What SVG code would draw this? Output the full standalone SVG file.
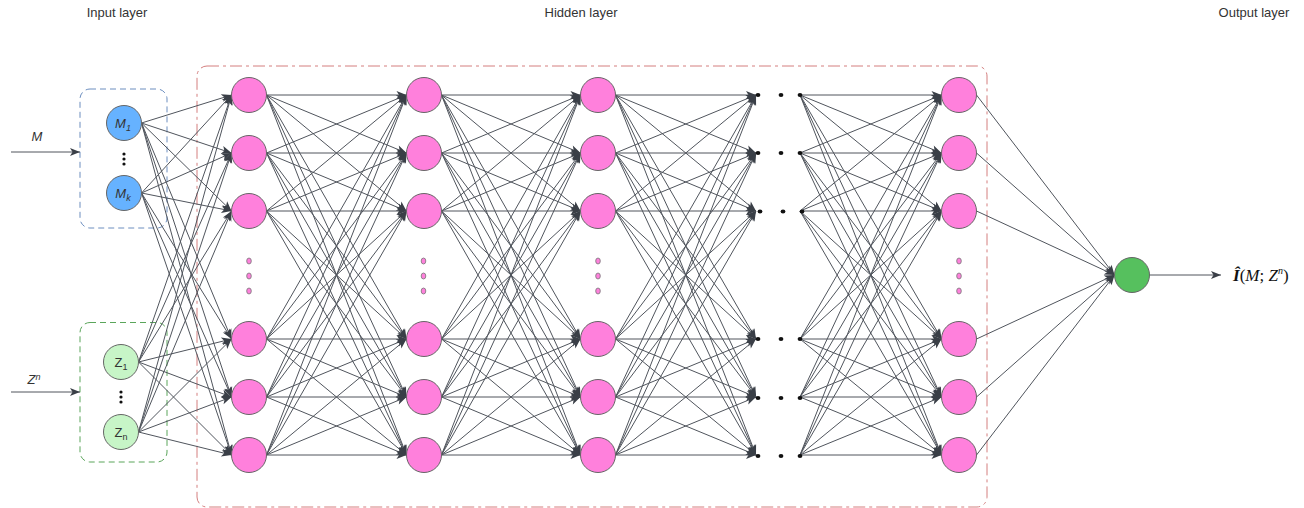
<svg xmlns="http://www.w3.org/2000/svg" width="1304" height="508" viewBox="0 0 1304 508">
<style>
text{font-family:"Liberation Sans",Arial,sans-serif;fill:#333}
.hd{font-size:13px;text-anchor:middle}
.e line{stroke:#50555d;stroke-width:1;marker-end:url(#ah)}
.hn{fill:#ff80dc;stroke:#666;stroke-width:1}
.pd{fill:#ff80dc;stroke:#777;stroke-width:0.8}
.bd{fill:#111}
.nl{font-size:13px;text-anchor:middle}
</style>
<defs>
<marker id="ah" markerUnits="userSpaceOnUse" markerWidth="12" markerHeight="10" refX="10" refY="4" orient="auto" overflow="visible">
<path d="M0,0 L10,4 L0,8 L2.5,4 z" fill="#3a3f47"/>
</marker>
</defs>
<rect width="1304" height="508" fill="#fff"/>
<text class="hd" x="117" y="17">Input layer</text>
<text class="hd" x="581" y="17">Hidden layer</text>
<text class="hd" x="1254" y="17">Output layer</text>

<g id="hidden-box"><rect x="197" y="66" width="790" height="441" rx="10" fill="none" stroke="#d47f7f" stroke-width="1" stroke-dasharray="12 4 3 4"/></g>
<g id="input-m-box"><rect x="80" y="89" width="87" height="139" rx="10" fill="none" stroke="#6c8ebf" stroke-width="1" stroke-dasharray="6 4"/></g>
<g id="input-z-box"><rect x="80" y="322.5" width="87" height="139.5" rx="10" fill="none" stroke="#5aa55a" stroke-width="1" stroke-dasharray="6 4"/></g>

<g class="e" id="connectors">
<line x1="11" y1="152" x2="80" y2="152"/>
<line x1="11" y1="392" x2="80" y2="392"/>
<line x1="1149.5" y1="275" x2="1221" y2="275"/>
<!-- input to col1 -->
<line x1="141.5" y1="123" x2="231.5" y2="95"/><line x1="141.5" y1="123" x2="231.5" y2="153"/><line x1="141.5" y1="123" x2="231.5" y2="211"/><line x1="141.5" y1="123" x2="231.5" y2="339"/><line x1="141.5" y1="123" x2="231.5" y2="397"/><line x1="141.5" y1="123" x2="231.5" y2="455"/>
<line x1="141.5" y1="193" x2="231.5" y2="95"/><line x1="141.5" y1="193" x2="231.5" y2="153"/><line x1="141.5" y1="193" x2="231.5" y2="211"/><line x1="141.5" y1="193" x2="231.5" y2="339"/><line x1="141.5" y1="193" x2="231.5" y2="397"/><line x1="141.5" y1="193" x2="231.5" y2="455"/>
<line x1="138.5" y1="362" x2="231.5" y2="95"/><line x1="138.5" y1="362" x2="231.5" y2="153"/><line x1="138.5" y1="362" x2="231.5" y2="211"/><line x1="138.5" y1="362" x2="231.5" y2="339"/><line x1="138.5" y1="362" x2="231.5" y2="397"/><line x1="138.5" y1="362" x2="231.5" y2="455"/>
<line x1="138.5" y1="432" x2="231.5" y2="95"/><line x1="138.5" y1="432" x2="231.5" y2="153"/><line x1="138.5" y1="432" x2="231.5" y2="211"/><line x1="138.5" y1="432" x2="231.5" y2="339"/><line x1="138.5" y1="432" x2="231.5" y2="397"/><line x1="138.5" y1="432" x2="231.5" y2="455"/>
<!-- col1 to col2 -->
<line x1="266.5" y1="95" x2="406.5" y2="95"/><line x1="266.5" y1="95" x2="406.5" y2="153"/><line x1="266.5" y1="95" x2="406.5" y2="211"/><line x1="266.5" y1="95" x2="406.5" y2="339"/><line x1="266.5" y1="95" x2="406.5" y2="397"/><line x1="266.5" y1="95" x2="406.5" y2="455"/>
<line x1="266.5" y1="153" x2="406.5" y2="95"/><line x1="266.5" y1="153" x2="406.5" y2="153"/><line x1="266.5" y1="153" x2="406.5" y2="211"/><line x1="266.5" y1="153" x2="406.5" y2="339"/><line x1="266.5" y1="153" x2="406.5" y2="397"/><line x1="266.5" y1="153" x2="406.5" y2="455"/>
<line x1="266.5" y1="211" x2="406.5" y2="95"/><line x1="266.5" y1="211" x2="406.5" y2="153"/><line x1="266.5" y1="211" x2="406.5" y2="211"/><line x1="266.5" y1="211" x2="406.5" y2="339"/><line x1="266.5" y1="211" x2="406.5" y2="397"/><line x1="266.5" y1="211" x2="406.5" y2="455"/>
<line x1="266.5" y1="339" x2="406.5" y2="95"/><line x1="266.5" y1="339" x2="406.5" y2="153"/><line x1="266.5" y1="339" x2="406.5" y2="211"/><line x1="266.5" y1="339" x2="406.5" y2="339"/><line x1="266.5" y1="339" x2="406.5" y2="397"/><line x1="266.5" y1="339" x2="406.5" y2="455"/>
<line x1="266.5" y1="397" x2="406.5" y2="95"/><line x1="266.5" y1="397" x2="406.5" y2="153"/><line x1="266.5" y1="397" x2="406.5" y2="211"/><line x1="266.5" y1="397" x2="406.5" y2="339"/><line x1="266.5" y1="397" x2="406.5" y2="397"/><line x1="266.5" y1="397" x2="406.5" y2="455"/>
<line x1="266.5" y1="455" x2="406.5" y2="95"/><line x1="266.5" y1="455" x2="406.5" y2="153"/><line x1="266.5" y1="455" x2="406.5" y2="211"/><line x1="266.5" y1="455" x2="406.5" y2="339"/><line x1="266.5" y1="455" x2="406.5" y2="397"/><line x1="266.5" y1="455" x2="406.5" y2="455"/>
<!-- col2 to col3 -->
<line x1="441.5" y1="95" x2="580.5" y2="95"/><line x1="441.5" y1="95" x2="580.5" y2="153"/><line x1="441.5" y1="95" x2="580.5" y2="211"/><line x1="441.5" y1="95" x2="580.5" y2="339"/><line x1="441.5" y1="95" x2="580.5" y2="397"/><line x1="441.5" y1="95" x2="580.5" y2="455"/>
<line x1="441.5" y1="153" x2="580.5" y2="95"/><line x1="441.5" y1="153" x2="580.5" y2="153"/><line x1="441.5" y1="153" x2="580.5" y2="211"/><line x1="441.5" y1="153" x2="580.5" y2="339"/><line x1="441.5" y1="153" x2="580.5" y2="397"/><line x1="441.5" y1="153" x2="580.5" y2="455"/>
<line x1="441.5" y1="211" x2="580.5" y2="95"/><line x1="441.5" y1="211" x2="580.5" y2="153"/><line x1="441.5" y1="211" x2="580.5" y2="211"/><line x1="441.5" y1="211" x2="580.5" y2="339"/><line x1="441.5" y1="211" x2="580.5" y2="397"/><line x1="441.5" y1="211" x2="580.5" y2="455"/>
<line x1="441.5" y1="339" x2="580.5" y2="95"/><line x1="441.5" y1="339" x2="580.5" y2="153"/><line x1="441.5" y1="339" x2="580.5" y2="211"/><line x1="441.5" y1="339" x2="580.5" y2="339"/><line x1="441.5" y1="339" x2="580.5" y2="397"/><line x1="441.5" y1="339" x2="580.5" y2="455"/>
<line x1="441.5" y1="397" x2="580.5" y2="95"/><line x1="441.5" y1="397" x2="580.5" y2="153"/><line x1="441.5" y1="397" x2="580.5" y2="211"/><line x1="441.5" y1="397" x2="580.5" y2="339"/><line x1="441.5" y1="397" x2="580.5" y2="397"/><line x1="441.5" y1="397" x2="580.5" y2="455"/>
<line x1="441.5" y1="455" x2="580.5" y2="95"/><line x1="441.5" y1="455" x2="580.5" y2="153"/><line x1="441.5" y1="455" x2="580.5" y2="211"/><line x1="441.5" y1="455" x2="580.5" y2="339"/><line x1="441.5" y1="455" x2="580.5" y2="397"/><line x1="441.5" y1="455" x2="580.5" y2="455"/>
<!-- col3 to col4 dots -->
<line x1="615.5" y1="95" x2="756" y2="95"/><line x1="615.5" y1="95" x2="756" y2="153"/><line x1="615.5" y1="95" x2="756" y2="211"/><line x1="615.5" y1="95" x2="756" y2="339"/><line x1="615.5" y1="95" x2="756" y2="397"/><line x1="615.5" y1="95" x2="756" y2="455"/>
<line x1="615.5" y1="153" x2="756" y2="95"/><line x1="615.5" y1="153" x2="756" y2="153"/><line x1="615.5" y1="153" x2="756" y2="211"/><line x1="615.5" y1="153" x2="756" y2="339"/><line x1="615.5" y1="153" x2="756" y2="397"/><line x1="615.5" y1="153" x2="756" y2="455"/>
<line x1="615.5" y1="211" x2="756" y2="95"/><line x1="615.5" y1="211" x2="756" y2="153"/><line x1="615.5" y1="211" x2="756" y2="211"/><line x1="615.5" y1="211" x2="756" y2="339"/><line x1="615.5" y1="211" x2="756" y2="397"/><line x1="615.5" y1="211" x2="756" y2="455"/>
<line x1="615.5" y1="339" x2="756" y2="95"/><line x1="615.5" y1="339" x2="756" y2="153"/><line x1="615.5" y1="339" x2="756" y2="211"/><line x1="615.5" y1="339" x2="756" y2="339"/><line x1="615.5" y1="339" x2="756" y2="397"/><line x1="615.5" y1="339" x2="756" y2="455"/>
<line x1="615.5" y1="397" x2="756" y2="95"/><line x1="615.5" y1="397" x2="756" y2="153"/><line x1="615.5" y1="397" x2="756" y2="211"/><line x1="615.5" y1="397" x2="756" y2="339"/><line x1="615.5" y1="397" x2="756" y2="397"/><line x1="615.5" y1="397" x2="756" y2="455"/>
<line x1="615.5" y1="455" x2="756" y2="95"/><line x1="615.5" y1="455" x2="756" y2="153"/><line x1="615.5" y1="455" x2="756" y2="211"/><line x1="615.5" y1="455" x2="756" y2="339"/><line x1="615.5" y1="455" x2="756" y2="397"/><line x1="615.5" y1="455" x2="756" y2="455"/>
<!-- col4 dots to col5 -->
<line x1="800" y1="95" x2="941.5" y2="95"/><line x1="800" y1="95" x2="941.5" y2="153"/><line x1="800" y1="95" x2="941.5" y2="211"/><line x1="800" y1="95" x2="941.5" y2="339"/><line x1="800" y1="95" x2="941.5" y2="397"/><line x1="800" y1="95" x2="941.5" y2="455"/>
<line x1="800" y1="153" x2="941.5" y2="95"/><line x1="800" y1="153" x2="941.5" y2="153"/><line x1="800" y1="153" x2="941.5" y2="211"/><line x1="800" y1="153" x2="941.5" y2="339"/><line x1="800" y1="153" x2="941.5" y2="397"/><line x1="800" y1="153" x2="941.5" y2="455"/>
<line x1="800" y1="211" x2="941.5" y2="95"/><line x1="800" y1="211" x2="941.5" y2="153"/><line x1="800" y1="211" x2="941.5" y2="211"/><line x1="800" y1="211" x2="941.5" y2="339"/><line x1="800" y1="211" x2="941.5" y2="397"/><line x1="800" y1="211" x2="941.5" y2="455"/>
<line x1="800" y1="339" x2="941.5" y2="95"/><line x1="800" y1="339" x2="941.5" y2="153"/><line x1="800" y1="339" x2="941.5" y2="211"/><line x1="800" y1="339" x2="941.5" y2="339"/><line x1="800" y1="339" x2="941.5" y2="397"/><line x1="800" y1="339" x2="941.5" y2="455"/>
<line x1="800" y1="397" x2="941.5" y2="95"/><line x1="800" y1="397" x2="941.5" y2="153"/><line x1="800" y1="397" x2="941.5" y2="211"/><line x1="800" y1="397" x2="941.5" y2="339"/><line x1="800" y1="397" x2="941.5" y2="397"/><line x1="800" y1="397" x2="941.5" y2="455"/>
<line x1="800" y1="455" x2="941.5" y2="95"/><line x1="800" y1="455" x2="941.5" y2="153"/><line x1="800" y1="455" x2="941.5" y2="211"/><line x1="800" y1="455" x2="941.5" y2="339"/><line x1="800" y1="455" x2="941.5" y2="397"/><line x1="800" y1="455" x2="941.5" y2="455"/>
<!-- col5 to output -->
<line x1="976.5" y1="95" x2="1114.5" y2="275"/><line x1="976.5" y1="153" x2="1114.5" y2="275"/><line x1="976.5" y1="211" x2="1114.5" y2="275"/><line x1="976.5" y1="339" x2="1114.5" y2="275"/><line x1="976.5" y1="397" x2="1114.5" y2="275"/><line x1="976.5" y1="455" x2="1114.5" y2="275"/>
</g>

<text x="37" y="141" class="nl" font-style="italic">M</text>
<text x="34" y="384" class="nl" font-style="italic">Z<tspan font-size="9" dy="-4">n</tspan></text>

<g id="node-m1"><circle cx="124" cy="123" r="17.5" fill="#66b2ff" stroke="#666"/><text x="123" y="128" class="nl" font-style="italic">M<tspan font-size="9" dy="3">1</tspan></text></g>
<g id="m-dots"><circle cx="124" cy="154" r="1.6" class="bd"/><circle cx="124" cy="159" r="1.6" class="bd"/><circle cx="124" cy="164" r="1.6" class="bd"/></g>
<g id="node-mk"><circle cx="124" cy="193" r="17.5" fill="#66b2ff" stroke="#666"/><text x="123" y="198" class="nl" font-style="italic">M<tspan font-size="9" dy="3">k</tspan></text></g>
<g id="node-z1"><circle cx="121" cy="362" r="17.5" fill="#c7f5c7" stroke="#666"/><text x="121" y="367" class="nl">Z<tspan font-size="9" dy="3">1</tspan></text></g>
<g id="z-dots"><circle cx="121" cy="392" r="1.6" class="bd"/><circle cx="121" cy="397" r="1.6" class="bd"/><circle cx="121" cy="402" r="1.6" class="bd"/></g>
<g id="node-zn"><circle cx="121" cy="432" r="17.5" fill="#c7f5c7" stroke="#666"/><text x="121" y="437" class="nl">Z<tspan font-size="9" dy="3">n</tspan></text></g>

<g id="col1"><circle class="hn" cx="249" cy="95" r="17.5"/><circle class="hn" cx="249" cy="153" r="17.5"/><circle class="hn" cx="249" cy="211" r="17.5"/><ellipse class="pd" cx="249" cy="261" rx="2.3" ry="3"/><ellipse class="pd" cx="249" cy="276" rx="2.3" ry="3"/><ellipse class="pd" cx="249" cy="291" rx="2.3" ry="3"/><circle class="hn" cx="249" cy="339" r="17.5"/><circle class="hn" cx="249" cy="397" r="17.5"/><circle class="hn" cx="249" cy="455" r="17.5"/></g>
<g id="col2"><circle class="hn" cx="424" cy="95" r="17.5"/><circle class="hn" cx="424" cy="153" r="17.5"/><circle class="hn" cx="424" cy="211" r="17.5"/><ellipse class="pd" cx="423.5" cy="261" rx="2.3" ry="3"/><ellipse class="pd" cx="423.5" cy="276" rx="2.3" ry="3"/><ellipse class="pd" cx="423.5" cy="291" rx="2.3" ry="3"/><circle class="hn" cx="424" cy="339" r="17.5"/><circle class="hn" cx="424" cy="397" r="17.5"/><circle class="hn" cx="424" cy="455" r="17.5"/></g>
<g id="col3"><circle class="hn" cx="598" cy="95" r="17.5"/><circle class="hn" cx="598" cy="153" r="17.5"/><circle class="hn" cx="598" cy="211" r="17.5"/><ellipse class="pd" cx="598" cy="261" rx="2.3" ry="3"/><ellipse class="pd" cx="598" cy="276" rx="2.3" ry="3"/><ellipse class="pd" cx="598" cy="291" rx="2.3" ry="3"/><circle class="hn" cx="598" cy="339" r="17.5"/><circle class="hn" cx="598" cy="397" r="17.5"/><circle class="hn" cx="598" cy="455" r="17.5"/></g>
<g id="col4-dots">
<ellipse class="bd" cx="758" cy="95" rx="2.4" ry="2"/><ellipse class="bd" cx="781" cy="95" rx="2.4" ry="2"/><ellipse class="bd" cx="800" cy="95" rx="2.4" ry="2"/>
<ellipse class="bd" cx="758" cy="153" rx="2.4" ry="2"/><ellipse class="bd" cx="781" cy="153" rx="2.4" ry="2"/><ellipse class="bd" cx="800" cy="153" rx="2.4" ry="2"/>
<ellipse class="bd" cx="760" cy="211.5" rx="2.4" ry="2"/><ellipse class="bd" cx="783" cy="211.5" rx="2.4" ry="2"/><ellipse class="bd" cx="802" cy="211.5" rx="2.4" ry="2"/>
<ellipse class="bd" cx="758" cy="339" rx="2.4" ry="2"/><ellipse class="bd" cx="781" cy="339" rx="2.4" ry="2"/><ellipse class="bd" cx="800" cy="339" rx="2.4" ry="2"/>
<ellipse class="bd" cx="758" cy="398" rx="2.4" ry="2"/><ellipse class="bd" cx="781" cy="398" rx="2.4" ry="2"/><ellipse class="bd" cx="800" cy="398" rx="2.4" ry="2"/>
<ellipse class="bd" cx="758" cy="456" rx="2.4" ry="2"/><ellipse class="bd" cx="781" cy="456" rx="2.4" ry="2"/><ellipse class="bd" cx="800" cy="456" rx="2.4" ry="2"/>
</g>
<g id="col5"><circle class="hn" cx="959" cy="95" r="17.5"/><circle class="hn" cx="959" cy="153" r="17.5"/><circle class="hn" cx="959" cy="211" r="17.5"/><ellipse class="pd" cx="959" cy="261" rx="2.3" ry="3"/><ellipse class="pd" cx="959" cy="276" rx="2.3" ry="3"/><ellipse class="pd" cx="959" cy="291" rx="2.3" ry="3"/><circle class="hn" cx="959" cy="339" r="17.5"/><circle class="hn" cx="959" cy="397" r="17.5"/><circle class="hn" cx="959" cy="455" r="17.5"/></g>
<g id="output-node"><circle cx="1132" cy="275" r="17.5" fill="#56c05e" stroke="#666"/></g>
<g id="output-label"><text x="1233" y="281" font-size="17" style="font-family:'Liberation Serif','Times New Roman',serif;fill:#111"><tspan font-weight="bold" font-style="italic">Î</tspan>(<tspan font-style="italic">M</tspan>; <tspan font-style="italic">Z</tspan><tspan font-size="10" dy="-7" font-style="italic">n</tspan><tspan dy="7">)</tspan></text></g>
</svg>
